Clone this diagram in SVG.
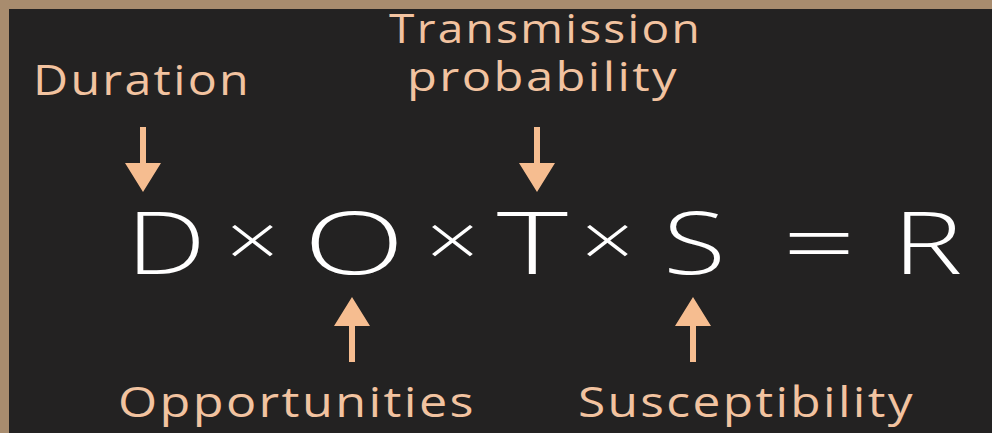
<svg xmlns="http://www.w3.org/2000/svg" width="992" height="433" viewBox="0 0 992 433">
<style>
.lbl{font-family:"Open Sans",Lato,"Liberation Sans",sans-serif;font-size:42px;fill:#f2c3a0;font-variant-ligatures:none;letter-spacing:2px}
.sm{font-size:40px}
.eq{font-family:"Open Sans",Lato,"Liberation Sans",sans-serif;font-size:86px;font-weight:300;fill:#ffffff;text-anchor:middle}
.op{font-family:"Open Sans",Lato,"Liberation Sans",sans-serif;font-size:72px;font-weight:300;fill:#ffffff;text-anchor:middle}
.arr{fill:#f6bd90}
</style>
<defs>
<polygon id="down" points="-3,0 3,0 3,36 18,36 0,65 -18,36 -3,36"/>
</defs>
<rect x="0" y="0" width="992" height="433" fill="#a88c6e"/>
<rect x="9" y="9" width="983" height="424" fill="#232222"/>
<g id="duration"><text class="lbl" x="33" y="95" textLength="218" lengthAdjust="spacingAndGlyphs">Duration</text></g>
<g id="transmission"><text class="lbl sm" x="389" y="43" textLength="313" lengthAdjust="spacingAndGlyphs">Transmission</text><text class="lbl sm" x="407" y="91" textLength="272" lengthAdjust="spacingAndGlyphs">probability</text></g>
<g id="opportunities"><text class="lbl" x="118" y="417" textLength="358" lengthAdjust="spacingAndGlyphs">Opportunities</text></g>
<g id="susceptibility"><text class="lbl" x="578" y="417" textLength="337" lengthAdjust="spacingAndGlyphs">Susceptibility</text></g>
<g id="equation">
<text class="eq" transform="translate(166,274) scale(1.31,1)">D</text>
<text class="op" transform="translate(252.5,266) scale(1.3,1)">×</text>
<text class="eq" transform="translate(354,274) scale(1.54,1)">O</text>
<text class="op" transform="translate(452.5,266) scale(1.3,1)">×</text>
<text class="eq" transform="translate(532.5,274) scale(1.58,1)">T</text>
<text class="op" transform="translate(607.5,266) scale(1.3,1)">×</text>
<text class="eq" transform="translate(694.5,274) scale(1.34,1)">S</text>
<text class="eq" transform="translate(819,274) scale(1.48,1)">=</text>
<text class="eq" transform="translate(927.5,274) scale(1.37,1)">R</text>
</g>
<g id="connectors">
<use href="#down" class="arr" transform="translate(143,127)"/>
<use href="#down" class="arr" transform="translate(537,127)"/>
<use href="#down" class="arr" transform="translate(352,362) scale(1,-1)"/>
<use href="#down" class="arr" transform="translate(693,362) scale(1,-1)"/>
</g>
</svg>
